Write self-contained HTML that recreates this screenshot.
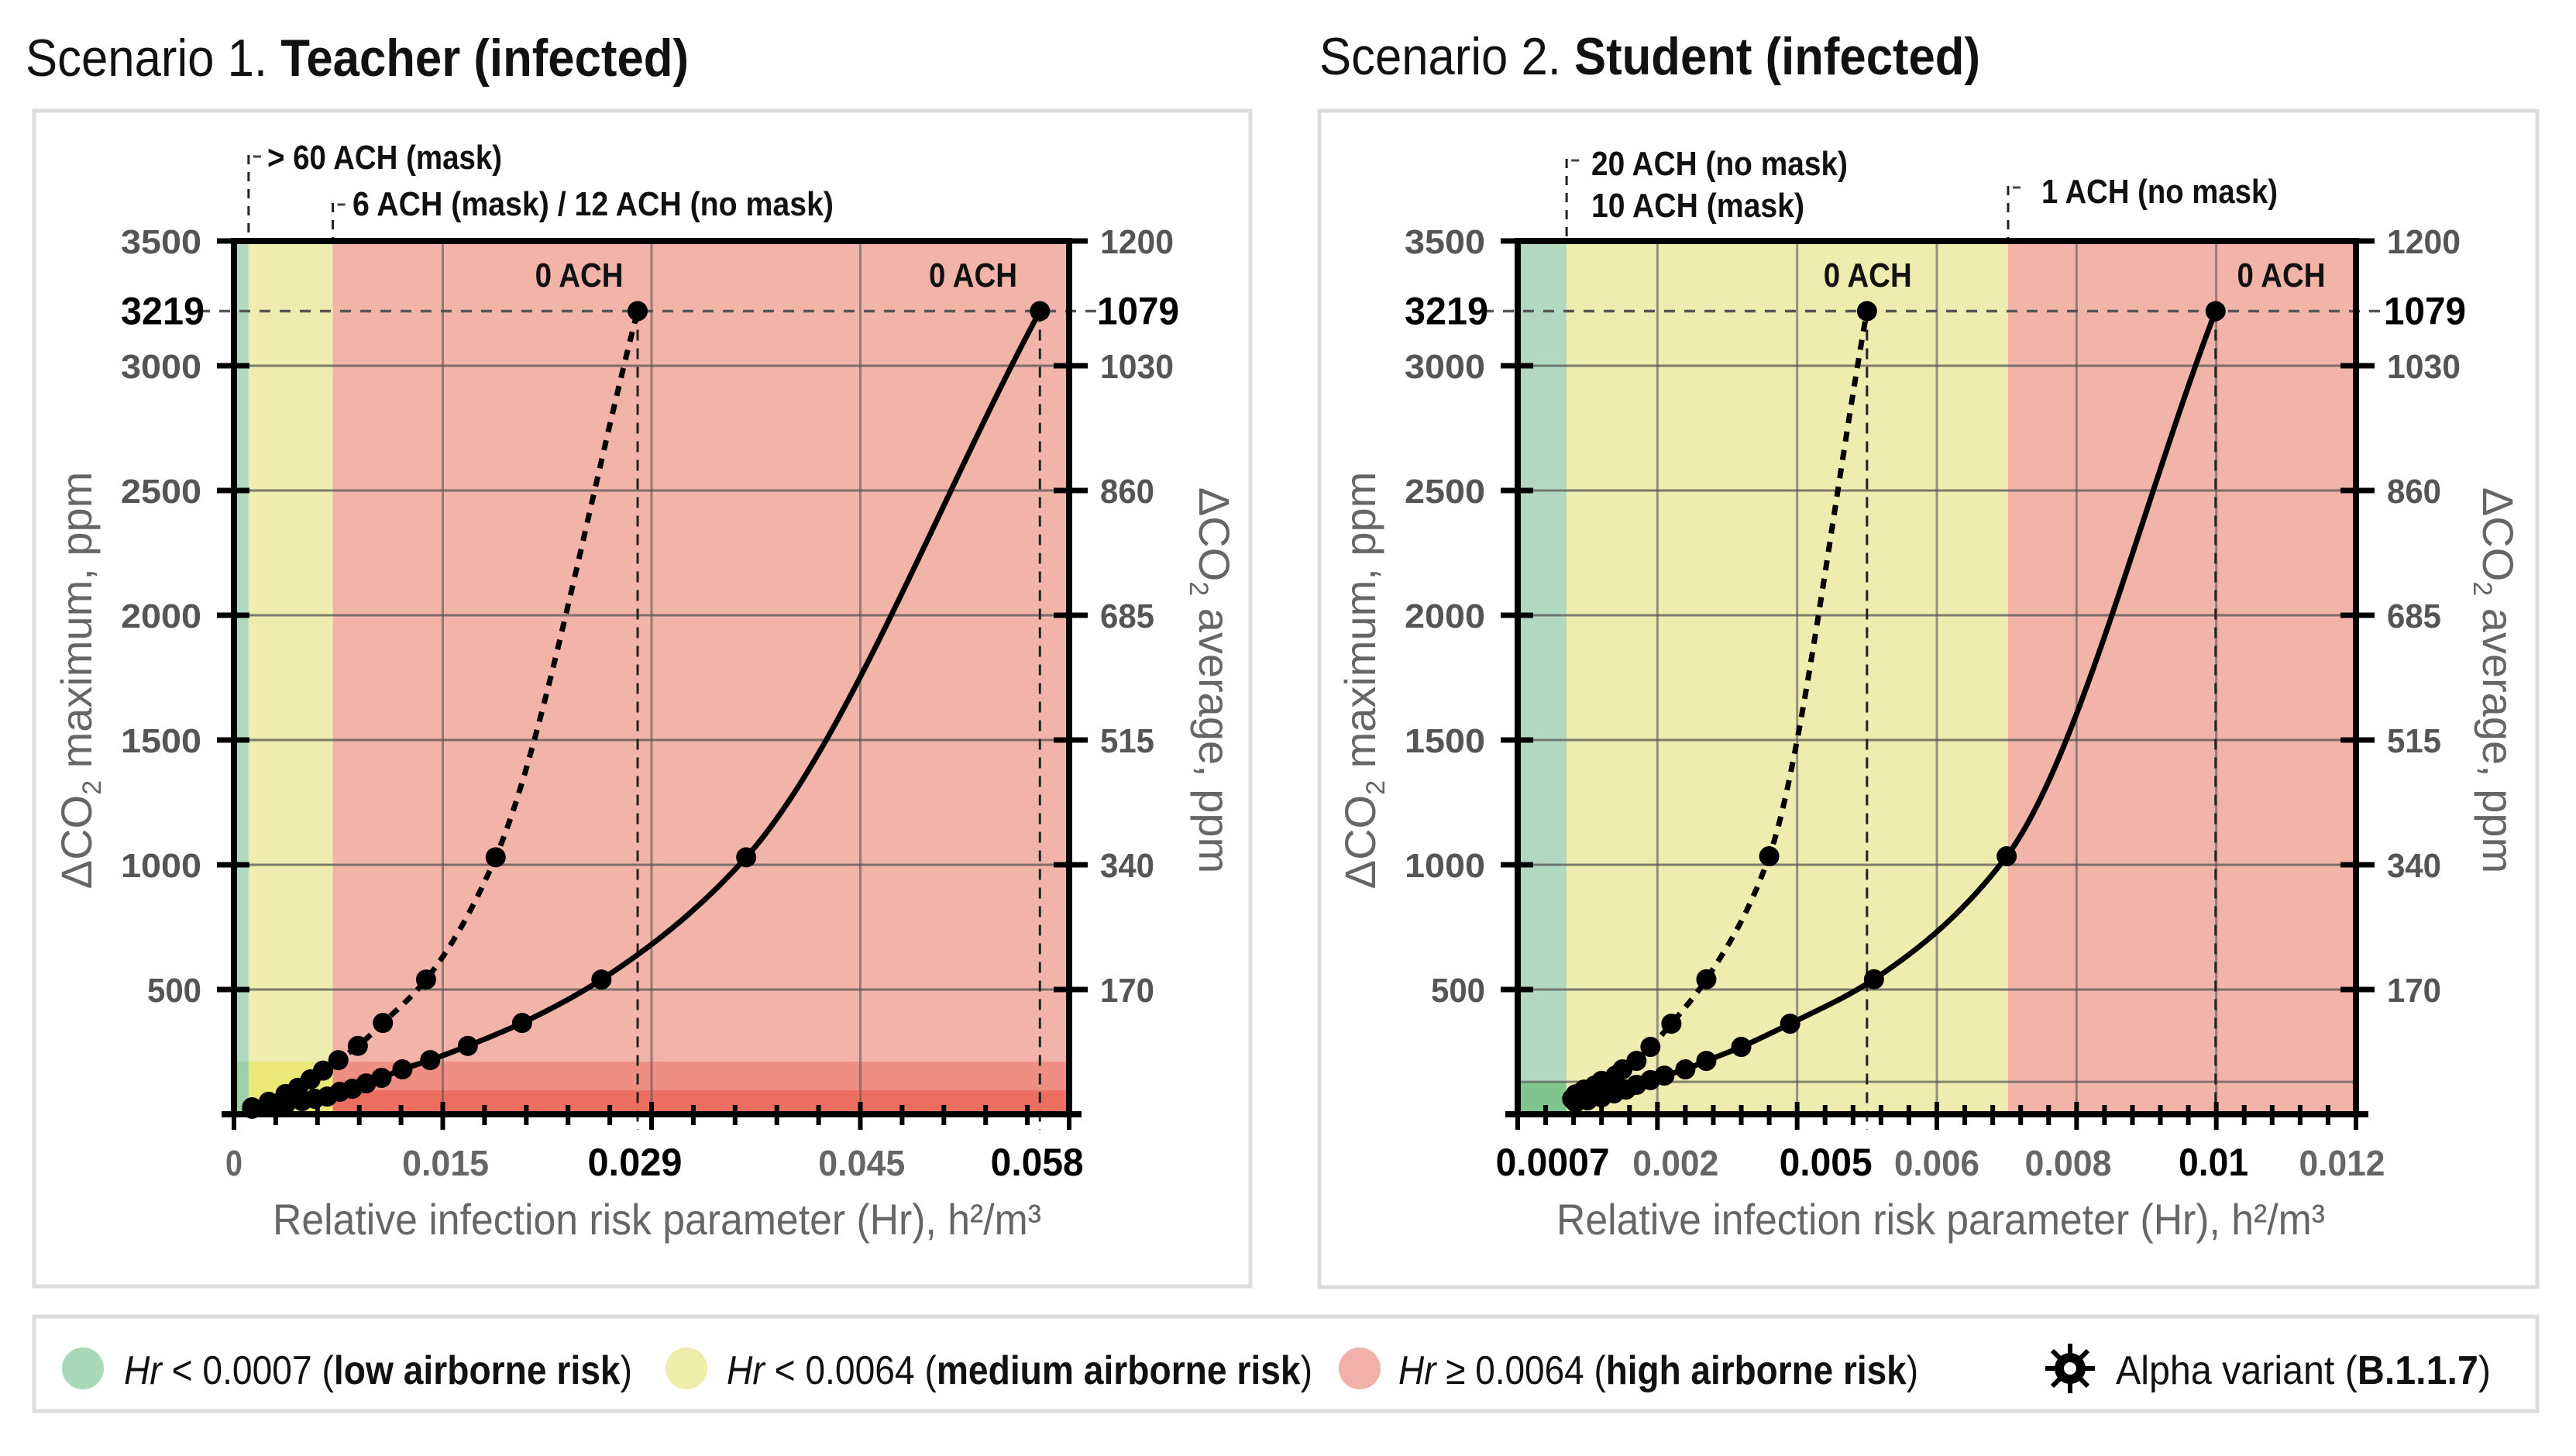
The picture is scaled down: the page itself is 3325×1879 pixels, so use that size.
<!DOCTYPE html>
<html><head><meta charset="utf-8"><style>
html,body{margin:0;padding:0;background:#fff;}
svg{display:block;font-family:"Liberation Sans",sans-serif;}
</style></head><body>
<svg id="fig" width="3325" height="1879" viewBox="0 0 3325 1879" xmlns="http://www.w3.org/2000/svg">
<rect x="0" y="0" width="3325" height="1879" fill="#fff"/>
<rect x="44" y="143" width="1570" height="1517" fill="none" stroke="#dcdcdc" stroke-width="5"/>
<rect x="1703" y="143" width="1572" height="1518" fill="none" stroke="#dcdcdc" stroke-width="5"/>
<rect x="44" y="1699" width="3231" height="122" fill="none" stroke="#dcdcdc" stroke-width="5"/>
<text x="33" y="98" font-size="68" fill="#111" textLength="856" lengthAdjust="spacingAndGlyphs">Scenario 1. <tspan font-weight="bold">Teacher (infected)</tspan></text>
<text x="1703" y="96" font-size="68" fill="#111" textLength="853" lengthAdjust="spacingAndGlyphs">Scenario 2. <tspan font-weight="bold">Student (infected)</tspan></text>
<g>
  <circle cx="107" cy="1766" r="27" fill="#a9d8b8"/>
  <text x="160" y="1786" font-size="52" fill="#111" textLength="656" lengthAdjust="spacingAndGlyphs"><tspan font-style="italic">Hr</tspan> &lt; 0.0007 (<tspan font-weight="bold">low airborne risk</tspan>)</text>
  <circle cx="886" cy="1766" r="27" fill="#eeeeaa"/>
  <text x="938" y="1786" font-size="52" fill="#111" textLength="756" lengthAdjust="spacingAndGlyphs"><tspan font-style="italic">Hr</tspan> &lt; 0.0064 (<tspan font-weight="bold">medium airborne risk</tspan>)</text>
  <circle cx="1755" cy="1766" r="27" fill="#f2b1a8"/>
  <text x="1805" y="1786" font-size="52" fill="#111" textLength="671" lengthAdjust="spacingAndGlyphs"><tspan font-style="italic">Hr</tspan> ≥ 0.0064 (<tspan font-weight="bold">high airborne risk</tspan>)</text>
  <g transform="translate(2672,1766)">
    <circle r="20" fill="#000"/>
    <g stroke="#000" stroke-width="6">
      <line x1="0" y1="-32" x2="0" y2="32"/><line x1="-32" y1="0" x2="32" y2="0"/>
      <line x1="-23" y1="-23" x2="23" y2="23"/><line x1="-23" y1="23" x2="23" y2="-23"/>
    </g>
    <circle r="8" fill="#fff"/>
  </g>
  <text x="2731" y="1786" font-size="52" fill="#111" textLength="484" lengthAdjust="spacingAndGlyphs">Alpha variant (<tspan font-weight="bold">B.1.1.7</tspan>)</text>
</g>
<g id="layer"></g>
</svg>
<script>
// ---- Scenario 1 (teacher) data ----
const t1SolidX = [0.0579,0.0368,0.0264,0.0207,0.0168,0.0141,0.0121,0.0106,0.0095,0.0085,0.0076,0.0067,0.0058,0.0049,0.0037,0.0025,0.0013];
const t1SolidY = [3219,1030,540,366,274,217,180,146,124,102,90,71,62,53,40,28,22];
const t1DotX = [0.029,0.0188,0.0138,0.0107,0.0089,0.0075,0.0064,0.0055,0.0046,0.0037,0.0025,0.0013];
const t1DotY = [3219,1030,540,366,274,217,175,140,106,81,50,28];
// ---- Scenario 2 (student) data ----
const s2SolidX = [0.00999,0.0070,0.0051,0.0039,0.0032,0.0027,0.0024,0.0021,0.0019,0.0017,0.00155,0.00138,0.0012,0.0010,0.00083];
const s2SolidY = [3219,1034,541,363,270,214,180,155,137,118,99,84,68,56,47];
const s2DotX = [0.0050,0.0036,0.0027,0.0022,0.0019,0.0017,0.0015,0.0014,0.0012,0.0011,0.00095,0.00083,0.00078];
const s2DotY = [3219,1034,541,363,270,214,180,155,134,115,99,80,62];
// ---- axis tick labels ----
const yTicks = [500,1000,1500,2000,2500,3000,3500];
const yRightLabels = ["170","340","515","685","860","1030","1200"];
const t1XLabels = ["0","0.015","0.029","0.045","0.058"];
const t1XLabelVals = [0,0.0152,0.0288,0.0451,0.0577];
const t1XBold = [false,false,true,false,true];
const s2XLabels = ["0.0007","0.002","0.005","0.006","0.008","0.01","0.012"];
const s2XLabelVals = [0.0005,0.00226,0.00441,0.006,0.00788,0.00996,0.0118];
const s2XBold = [true,false,true,false,false,true,false];

const NS="http://www.w3.org/2000/svg";
const layer=document.getElementById('layer');
function el(tag,attrs,parent){const e=document.createElementNS(NS,tag);for(const k in attrs)e.setAttribute(k,attrs[k]);(parent||layer).appendChild(e);return e;}
function txt(x,y,s,size,weight,fill,anchor,len,parent){
  const t=el('text',{x:x,y:y,'font-size':size,'font-weight':weight,fill:fill,'text-anchor':anchor||'start'},parent);
  if(len){t.setAttribute('textLength',len);t.setAttribute('lengthAdjust','spacingAndGlyphs');}
  t.textContent=s;return t;}
// monotone cubic (Fritsch-Carlson) in screen space, x ascending
function smooth(ptsIn){
  const pts=ptsIn.slice().sort((a,b)=>a[0]-b[0]);
  const n=pts.length, dx=[], m=[], t=new Array(n);
  for(let i=0;i<n-1;i++){dx[i]=pts[i+1][0]-pts[i][0]; m[i]=(pts[i+1][1]-pts[i][1])/dx[i];}
  t[0]=m[0]; t[n-1]=m[n-2];
  for(let i=1;i<n-1;i++){
    if(m[i-1]*m[i]<=0) t[i]=0;
    else {const w1=2*dx[i]+dx[i-1], w2=dx[i]+2*dx[i-1]; t[i]=(w1+w2)/(w1/m[i-1]+w2/m[i]);}
  }
  let d='M'+pts[0][0]+','+pts[0][1];
  for(let i=0;i<n-1;i++){
    const h=dx[i];
    d+=' C'+(pts[i][0]+h/3)+','+(pts[i][1]+t[i]*h/3)+' '+(pts[i+1][0]-h/3)+','+(pts[i+1][1]-t[i+1]*h/3)+' '+pts[i+1][0]+','+pts[i+1][1];
  }
  return d;}

function chart(c){
  const g=el('g',{});
  
  
  const X=v=>c.x0+(v/c.xmax)*(c.x1-c.x0);
  const Y=v=>c.y1-(v/3500)*(c.y1-c.y0);
  const zg=X(c.green), zy=X(c.yellow);
  let r=el('rect',{x:c.x0,y:c.y0,width:zg-c.x0,height:c.y1-c.y0,fill:'#b2d9bf'},g);
  
  r=el('rect',{x:zg,y:c.y0,width:zy-zg,height:c.y1-c.y0,fill:'#eeecae'},g);
  
  r=el('rect',{x:zy,y:c.y0,width:c.x1-zy,height:c.y1-c.y0,fill:'#f2b4a9'},g);
  
  c.bands.forEach(b=>{
    const xa=b.xa==null?c.x0:X(b.xa), xb=b.xb==null?c.x1:X(b.xb);
    el('rect',{x:xa,y:Y(b.top),width:xb-xa,height:Y(b.bot)-Y(b.top),fill:b.fill},g);
  });
  yTicks.forEach(v=>{ if(v<3500) el('line',{x1:c.x0,x2:c.x1,y1:Y(v),y2:Y(v),stroke:'#555','stroke-width':3,'stroke-opacity':0.75},g);});
  if(c.extraH) el('line',{x1:c.x0,x2:c.x1,y1:Y(c.extraH),y2:Y(c.extraH),stroke:'#555','stroke-width':3,'stroke-opacity':0.7},g);
  c.xGrid.forEach(v=>el('line',{x1:X(v),x2:X(v),y1:c.y0,y2:c.y1,stroke:'#555','stroke-width':3,'stroke-opacity':0.6},g));
  el('line',{x1:c.x0-45,x2:c.x1+40,y1:Y(3219),y2:Y(3219),stroke:'#555','stroke-width':3.5,'stroke-dasharray':'14 12'},g);
  c.vDash.forEach(v=>el('line',{x1:X(v),x2:X(v),y1:Y(3219),y2:c.y1+20,stroke:'#222','stroke-width':3,'stroke-dasharray':'14 10'},g));
  c.annV.forEach(a=>{el('line',{x1:X(a.v),x2:X(a.v),y1:a.y,y2:c.y0,stroke:'#222','stroke-width':3,'stroke-dasharray':'12 10'},g);
    el('line',{x1:X(a.v)+6,x2:X(a.v)+16,y1:a.y+2,y2:a.y+2,stroke:'#444','stroke-width':3},g);});
  el('rect',{x:c.x0,y:c.y0,width:c.x1-c.x0,height:c.y1-c.y0,fill:'none',stroke:'#000','stroke-width':8},g);
  yTicks.forEach((v,i)=>{
    el('line',{x1:c.x0-22,x2:c.x0+20,y1:Y(v),y2:Y(v),stroke:'#000','stroke-width':7},g);
    el('line',{x1:c.x1-20,x2:c.x1+24,y1:Y(v),y2:Y(v),stroke:'#000','stroke-width':7},g);
    const tl=txt(c.x0-42,Y(v)+16,String(v),44,'bold','#555','end',v>=1000?104:70,g);
    
    const tr=txt(c.x1+40,Y(v)+16,yRightLabels[i],44,'bold','#555','start',yRightLabels[i].length>3?95:70,g);
    
  });
  txt(c.x0-38,Y(3219)+17,'3219',50,'bold','#000','end',108,g);
  txt(c.x1+36,Y(3219)+17,'1079',50,'bold','#000','start',106,g);
  const nMinor=Math.round(c.xmax/c.minor);
  for(let k=0;k<=nMinor;k++){
    const v=k*c.minor;
    const major=(k%Math.round(c.major/c.minor))===0;
    el('line',{x1:X(v),x2:X(v),y1:c.y1-(major?16:12),y2:c.y1+(major?20:14),stroke:'#000','stroke-width':6},g);}
  el('line',{x1:c.x0-16,x2:c.x1+16,y1:c.y1,y2:c.y1,stroke:'#000','stroke-width':8},g);
  c.xl.forEach((s,i)=>{
    const b=c.xb[i];
    const t=txt(X(c.xv[i]),1517,s,b?50:46,'bold',b?'#000':'#666','middle',c.xw[i],g);
    
  });
  const sp=c.sx.map((v,i)=>[X(v),Y(c.sy[i])]);
  const dp=c.dx.map((v,i)=>[X(v),Y(c.dy[i])]);
  const sl=el('path',{d:smooth(sp),fill:'none',stroke:'#000','stroke-width':7},g);
  
  const dl=el('path',{d:smooth(dp),fill:'none',stroke:'#000','stroke-width':7,'stroke-dasharray':'13 11'},g);
  
  sp.forEach(p=>{const m=el('circle',{cx:p[0],cy:p[1],r:13,fill:'#000'},g);
    });
  dp.forEach(p=>{const m=el('circle',{cx:p[0],cy:p[1],r:13,fill:'#000'},g);
    });
  const xt=txt(c.xtc,1593,'Relative infection risk parameter (Hr), h²/m³',56,'normal','#666','middle',992,g);
  
  const yl=el('text',{transform:'translate('+c.ylx+',878) rotate(-90)','font-size':56,fill:'#666','text-anchor':'middle'},g);
  yl.innerHTML='ΔCO<tspan font-size="34" dy="12">2</tspan><tspan dy="-12"> maximum, ppm</tspan>';
  
  const yr=el('text',{transform:'translate('+c.yrx+',878) rotate(90)','font-size':56,fill:'#666','text-anchor':'middle'},g);
  yr.innerHTML='ΔCO<tspan font-size="34" dy="12">2</tspan><tspan dy="-12"> average, ppm</tspan>';
  
  c.ach.forEach(a=>{const t=txt(X(a),370,'0 ACH',44,'bold','#111','middle',114,g);
    });
  c.ann.forEach(a=>{const t=txt(a.x,a.y,a.s,44,'bold','#111','start',a.w,g);
    });
}

chart({name:'chart-teacher',x0:302,x1:1380,xmax:0.06,y0:311,y1:1438,green:0.00105,yellow:0.0071,
  bands:[{xa:null,xb:0.00105,top:211,bot:0,fill:'#a0d0ab'},{xa:0.00105,xb:0.0071,top:211,bot:0,fill:'#ece878'},
         {xa:0.0071,xb:null,top:211,bot:96,fill:'#ef8e82'},{xa:0.0071,xb:null,top:96,bot:0,fill:'#ec6e61'}],
  extraH:null,xGrid:[0.015,0.03,0.045],vDash:[0.029,0.0579],
  annV:[{v:0.00105,y:200},{v:0.0071,y:262}],minor:0.003,major:0.015,
  xl:t1XLabels,xv:t1XLabelVals,xb:t1XBold,xw:[22,112,122,112,120],
  sx:t1SolidX,sy:t1SolidY,dx:t1DotX,dy:t1DotY,xtc:848,ylx:118,yrx:1548,
  ach:[0.0248,0.0531],
  ann:[{x:345,y:218,s:'> 60 ACH (mask)',w:303},{x:455,y:278,s:'6 ACH (mask) / 12 ACH (no mask)',w:621}]});

chart({name:'chart-student',x0:1959,x1:3041,xmax:0.012,y0:311,y1:1438,green:0.0007,yellow:0.00702,
  bands:[{xa:null,xb:0.0007,top:130,bot:0,fill:'#82c48e'}],
  extraH:130,xGrid:[0.002,0.004,0.006,0.008,0.010],vDash:[0.005,0.00999],
  annV:[{v:0.0007,y:205},{v:0.00702,y:240}],minor:0.0004,major:0.002,
  xl:s2XLabels,xv:s2XLabelVals,xb:s2XBold,xw:[147,111,120,110,112,90,111],
  sx:s2SolidX,sy:s2SolidY,dx:s2DotX,dy:s2DotY,xtc:2505,ylx:1775,yrx:3205,
  ach:[0.00501,0.01093],
  ann:[{x:2054,y:226,s:'20 ACH (no mask)',w:331},{x:2054,y:280,s:'10 ACH (mask)',w:275},{x:2635,y:262,s:'1 ACH (no mask)',w:305}]});
</script>
</body></html>
